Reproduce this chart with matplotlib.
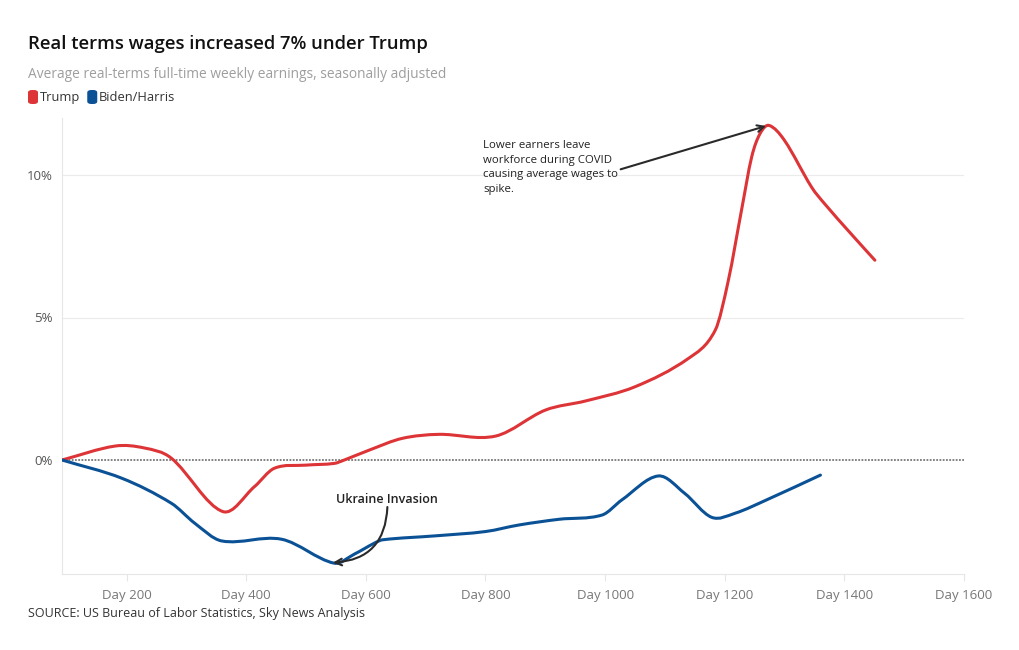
import matplotlib
matplotlib.use("Agg")
import matplotlib.pyplot as plt
from matplotlib.path import Path
from matplotlib.patches import PathPatch, FancyBboxPatch
import numpy as np

# ---- data ----
trump_days = [92, 181, 230, 275, 361, 414, 447, 500, 547, 564, 606, 661, 722,
              817, 900, 967, 1050, 1139, 1184, 1206, 1228, 1245, 1259, 1274, 1300, 1345,
              1367, 1411, 1451]
trump_vals = [0.0, 0.49, 0.42, 0.06, -1.81, -0.93, -0.29, -0.18, -0.12, 0.0,
              0.35, 0.76, 0.90, 0.84, 1.75, 2.07, 2.57, 3.56, 4.55, 6.3, 8.76, 10.63,
              11.45, 11.74, 11.21, 9.58, 8.99, 7.94, 7.01]
biden_days = [92, 192, 275, 314, 359, 459, 547, 581, 614, 628, 717, 800, 856,
              923, 995, 1028, 1089, 1133, 1178, 1217, 1272, 1360]
biden_vals = [0.0, -0.64, -1.52, -2.22, -2.84, -2.78, -3.62, -3.3, -2.92, -2.8,
              -2.66, -2.51, -2.28, -2.08, -1.93, -1.4, -0.56, -1.17, -2.01, -1.87,
              -1.38, -0.53]
x_ticks = [200, 400, 600, 800, 1000, 1200, 1400, 1600]
x_tick_labels = ["Day 200", "Day 400", "Day 600", "Day 800", "Day 1000", "Day 1200",
                 "Day 1400", "Day 1600"]
y_ticks = [0, 5, 10]
y_tick_labels = ["0%", "5%", "10%"]
series_names = ["Trump", "Biden/Harris"]

RED = "#DD3437"
BLUE = "#0B5195"
FONT = ["Open Sans", "DejaVu Sans"]
plt.rcParams["font.family"] = FONT


def smooth_path(xs, ys):
    """Bezier path through the points (Catmull-Rom tangents)."""
    x = np.asarray(xs, float)
    y = np.asarray(ys, float)
    n = len(x)
    m = np.zeros(n)
    for i in range(1, n - 1):
        m[i] = (y[i + 1] - y[i - 1]) / (x[i + 1] - x[i - 1])
    m[0] = (y[1] - y[0]) / (x[1] - x[0])
    m[-1] = (y[-1] - y[-2]) / (x[-1] - x[-2])
    verts = [(x[0], y[0])]
    codes = [Path.MOVETO]
    for i in range(n - 1):
        d = (x[i + 1] - x[i]) / 3
        verts += [(x[i] + d, y[i] + m[i] * d), (x[i + 1] - d, y[i + 1] - m[i + 1] * d),
                  (x[i + 1], y[i + 1])]
        codes += [Path.CURVE4] * 3
    return Path(verts, codes)


fig = plt.figure(figsize=(10.2, 6.5), dpi=100)
ax = fig.add_axes([62 / 1020, 1 - 574 / 650, (964 - 62) / 1020, (574 - 118) / 650])
ax.set_xlim(92, 1600)
ax.set_ylim(-4, 12)

# grid
for yv in [5, 10]:
    ax.axhline(yv, color="#EBEBEB", lw=0.8, zorder=0)
ax.axhline(0, color="#777777", lw=1.3, ls=(0, (1, 0.8)), zorder=1)

for spine in ["top", "right"]:
    ax.spines[spine].set_visible(False)
ax.spines["left"].set_color("#E6E6E6")
ax.spines["bottom"].set_color("#E6E6E6")
ax.spines["left"].set_linewidth(0.8)
ax.spines["bottom"].set_linewidth(0.8)

ax.set_xticks(x_ticks)
ax.set_xticklabels(x_tick_labels)
ax.set_yticks(y_ticks)
ax.set_yticklabels(y_tick_labels)
ax.tick_params(axis="x", length=5, color="#E6E6E6", labelcolor="#777777",
               labelsize=9.5, pad=6)
ax.tick_params(axis="y", length=0, labelcolor="#555555", labelsize=9.5, pad=7)

# series
for xs, ys, c in [(trump_days, trump_vals, RED), (biden_days, biden_vals, BLUE)]:
    ax.add_patch(PathPatch(smooth_path(xs, ys), fill=False, edgecolor=c, lw=2.2,
                           capstyle="round", joinstyle="round", zorder=3))

# annotations
ax.annotate("", xy=(1269, 11.72), xytext=(1026, 10.2),
            arrowprops=dict(arrowstyle="->", color="#2A2A2A", lw=1.5,
                            shrinkA=0, shrinkB=0, mutation_scale=12), zorder=4)
ax.text(796, 11.22, "Lower earners leave\nworkforce during COVID\ncausing average wages to\nspike.",
        fontsize=8.2, color="#222222", va="top", ha="left", linespacing=1.45)

ax.annotate("", xy=(545, -3.6), xytext=(636, -1.65),
            arrowprops=dict(arrowstyle="->", color="#2A2A2A", lw=1.5,
                            shrinkA=0, shrinkB=0, mutation_scale=12,
                            connectionstyle="arc3,rad=-0.45"), zorder=4)
ax.text(636, -1.4, "Ukraine Invasion", fontsize=9, color="#222222",
        ha="center", va="center", fontweight="semibold")

# titles
fig.text(28 / 1020, 1 - 44 / 650, "Real terms wages increased 7% under Trump",
         fontsize=13.3, fontweight="semibold", color="#111111", va="center", ha="left")
fig.text(28 / 1020, 1 - 74 / 650,
         "Average real-terms full-time weekly earnings, seasonally adjusted",
         fontsize=9.9, color="#9E9E9E", va="center", ha="left")

# legend
lx = 28
for name, c in zip(series_names, [RED, BLUE]):
    fig.patches.append(FancyBboxPatch((lx / 1020, 1 - 104 / 650), 10 / 1020, 14 / 650,
                                      boxstyle="round,pad=0,rounding_size=0.004",
                                      transform=fig.transFigure, facecolor=c,
                                      edgecolor="none"))
    t = fig.text((lx + 12) / 1020, 1 - 97.5 / 650, name, fontsize=9.3,
                 color="#333333", va="center", ha="left")
    fig.canvas.draw()
    bb = t.get_window_extent()
    lx = bb.x1 + 7

fig.text(28 / 1020, 1 - 614 / 650,
         "SOURCE: US Bureau of Labor Statistics, Sky News Analysis",
         fontsize=9.0, color="#333333", va="center", ha="left")

fig.savefig("out.png", dpi=100, facecolor="white")
